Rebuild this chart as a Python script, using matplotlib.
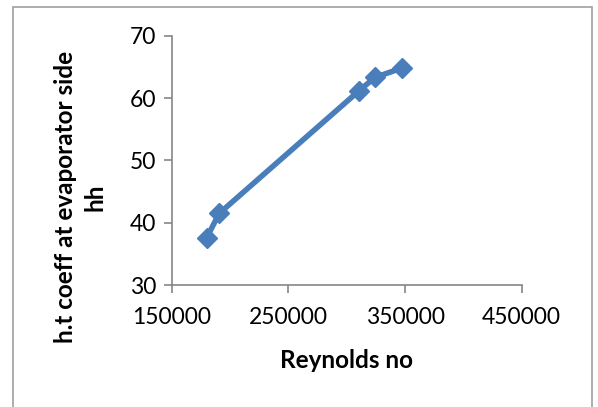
import matplotlib
matplotlib.use('Agg')
import matplotlib.pyplot as plt
from matplotlib.patches import Rectangle

reynolds = [180000, 190800, 310800, 324200, 347100]
htc = [37.6, 41.5, 61.2, 63.3, 64.8]

xticks = [150000, 250000, 350000, 450000]
yticks = [30, 40, 50, 60, 70]

plt.rcParams['font.family'] = ['Lato', 'DejaVu Sans']

W, H = 598, 407
fig = plt.figure(figsize=(W/100, H/100), dpi=100)

# chart border (bottom runs off the picture)
fig.patches.append(Rectangle((13/W, -0.05), (592-13)/W, 1.05 - 7/H,
                             transform=fig.transFigure, fill=False,
                             edgecolor='#a0a0a0', lw=1.2))

ax = fig.add_axes([171.7/W, 1 - 285/H, (521.7-171.7)/W, (285-35.7)/H])
ax.plot(reynolds, htc, color='#4a7ebb', lw=4, marker='D', ms=10,
        markeredgecolor='#4a7ebb')

ax.set_xlim(150000, 450000)
ax.set_ylim(30, 70)
ax.set_xticks(xticks)
ax.set_yticks(yticks)
ax.tick_params(labelsize=16.5, color='#868686', length=6, width=1.2)
ax.tick_params(axis='y', pad=5)
ax.tick_params(axis='x', pad=10)
for s in ['top', 'right']:
    ax.spines[s].set_visible(False)
for s in ['left', 'bottom']:
    ax.spines[s].set_color('#868686')
    ax.spines[s].set_linewidth(1.2)

fig.text(346.7/W, 1 - 360/H, 'Reynolds no', ha='center', va='center',
         fontsize=17.5, fontweight='bold')
fig.text(80/W, 1 - 197/H, 'h.t coeff at evaporator side\nhh', ha='center',
         va='center', rotation=90, fontsize=17.5, fontweight='bold',
         linespacing=1.35)

fig.savefig('out.png', dpi=100)
